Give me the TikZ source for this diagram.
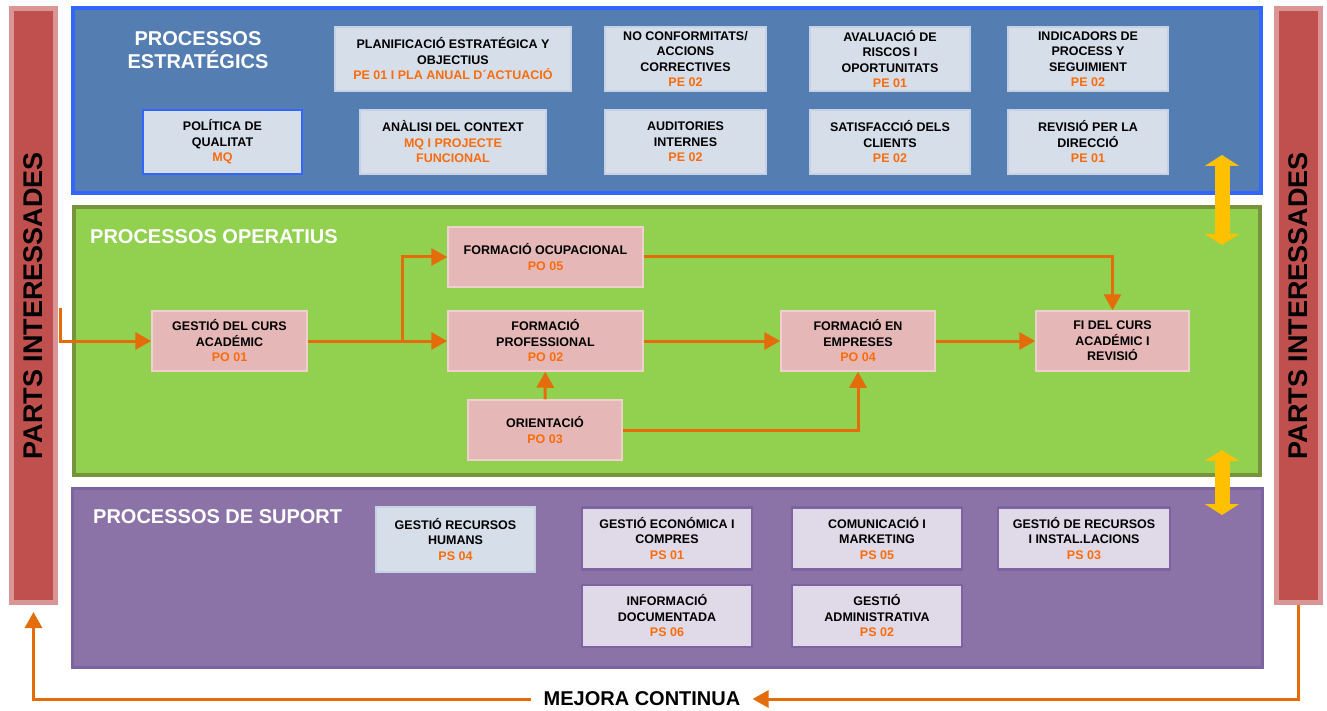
\documentclass[tikz,border=0pt]{standalone}
\usepackage{fontspec}
\setmainfont{Liberation Sans}
\usepackage{tikz}
\usetikzlibrary{arrows.meta}

\definecolor{bandblue}{RGB}{84,126,178}
\definecolor{edgeblue}{RGB}{51,102,255}
\definecolor{boxblue}{RGB}{214,222,234}
\definecolor{lineblue}{RGB}{198,210,228}
\definecolor{bandgreen}{RGB}{146,208,80}
\definecolor{edgegreen}{RGB}{119,147,60}
\definecolor{boxpink}{RGB}{229,184,183}
\definecolor{linepink}{RGB}{238,208,207}
\definecolor{bandpurple}{RGB}{139,115,168}
\definecolor{edgepurple}{RGB}{124,100,160}
\definecolor{boxlilac}{RGB}{223,217,232}
\definecolor{barred}{RGB}{192,80,77}
\definecolor{edgered}{RGB}{217,150,148}
\definecolor{flow}{RGB}{228,108,10}
\definecolor{codeorange}{RGB}{250,108,10}
\definecolor{link}{RGB}{255,192,0}

\begin{document}
\begin{tikzpicture}[x=1pt,y=-1pt,>={Triangle[length=16pt,width=17pt]}]
\tikzstyle{band}=[rectangle, line width=4pt, inner sep=0pt]
\tikzstyle{sidebar}=[rectangle, draw=edgered, fill=barred, line width=5pt, minimum width=44pt, minimum height=594pt]
\tikzstyle{sidetext}=[rotate=90, font=\fontsize{27}{30}\selectfont\bfseries]
\tikzstyle{bandtitle}=[text=white, align=center, inner sep=0pt, font=\fontsize{20}{23}\selectfont\bfseries]
\tikzstyle{box}=[rectangle, draw, line width=1.5pt, inner sep=0pt, align=center, font=\fontsize{12.5}{15.5}\selectfont\bfseries]
\tikzstyle{pe}=[box, fill=boxblue, draw=lineblue, minimum height=64pt, minimum width=160pt]
\tikzstyle{po}=[box, fill=boxpink, draw=linepink, minimum height=60pt, minimum width=155pt]
\tikzstyle{ps}=[box, fill=boxlilac, draw=edgepurple, line width=2.5pt, minimum height=62pt, minimum width=170pt]
\tikzstyle{flowline}=[->, draw=flow, line width=3pt]
\tikzstyle{linkarrow}=[{Triangle[length=11pt,width=34pt]}-{Triangle[length=11pt,width=34pt]}, draw=link, line width=15pt]

\useasboundingbox (0,0) rectangle (1327,711);

% side bars
\node[sidebar] (LPI) at (33.5,305.5) {};
\node[sidetext] (LPItext) at (LPI) {PARTS INTERESSADES};
\node[sidebar] (RPI) at (1298,305.5) {};
\node[sidetext] (RPItext) at (RPI) {PARTS INTERESSADES};

% bands
\node[band, draw=edgeblue, fill=bandblue, minimum width=1188pt, minimum height=185pt] (EST) at (667,100.5) {};
\node[band, draw=edgegreen, fill=bandgreen, minimum width=1186pt, minimum height=268pt] (OPE) at (667,341) {};
\node[band, draw=edgepurple, fill=bandpurple, line width=3pt, minimum width=1190pt, minimum height=179pt] (SUP) at (667.5,578) {};

\node[bandtitle] (ESTtitle) at (198,50) {PROCESSOS\\ESTRATÉGICS};
\node[bandtitle, anchor=west] (OPEtitle) at (90,237) {PROCESSOS OPERATIUS};
\node[bandtitle, anchor=west] (SUPtitle) at (93,517) {PROCESSOS DE SUPORT};

% processos estrategics
\node[pe, minimum width=236pt] (PLAN) at (453,59) {PLANIFICACIÓ ESTRATÉGICA Y\\OBJECTIUS\\\textcolor{codeorange}{PE 01 I PLA ANUAL D´ACTUACIÓ}};
\node[pe, minimum width=161pt] (NOCONF) at (685.5,59) {NO CONFORMITATS/\\ACCIONS\\CORRECTIVES\\\textcolor{codeorange}{PE 02}};
\node[pe] (RISC) at (890,59) {AVALUACIÓ DE\\RISCOS I\\OPORTUNITATS\\\textcolor{codeorange}{PE 01}};
\node[pe] (IND) at (1088,59) {INDICADORS DE\\PROCESS Y\\SEGUIMIENT\\\textcolor{codeorange}{PE 02}};
\node[pe, draw=edgeblue, minimum width=159pt] (POL) at (222.5,142) {POLÍTICA DE\\QUALITAT\\\textcolor{codeorange}{MQ}};
\node[pe, minimum width=186pt] (CTX) at (453,142) {ANÀLISI DEL CONTEXT\\\textcolor{codeorange}{MQ I PROJECTE}\\\textcolor{codeorange}{FUNCIONAL}};
\node[pe, minimum width=161pt] (AUD) at (685.5,142) {AUDITORIES\\INTERNES\\\textcolor{codeorange}{PE 02}};
\node[pe] (SAT) at (890,142) {SATISFACCIÓ DELS\\CLIENTS\\\textcolor{codeorange}{PE 02}};
\node[pe] (REV) at (1088,142) {REVISIÓ PER LA\\DIRECCIÓ\\\textcolor{codeorange}{PE 01}};

% processos operatius
\node[po] (GC) at (229.5,341) {GESTIÓ DEL CURS\\ACADÉMIC\\\textcolor{codeorange}{PO 01}};
\node[po, minimum width=195pt] (FO) at (545.5,257) {FORMACIÓ OCUPACIONAL\\\textcolor{codeorange}{PO 05}};
\node[po, minimum width=195pt] (FP) at (545.5,341) {FORMACIÓ\\PROFESSIONAL\\\textcolor{codeorange}{PO 02}};
\node[po, minimum width=154pt] (OR) at (545,430) {ORIENTACIÓ\\\textcolor{codeorange}{PO 03}};
\node[po, minimum width=154pt] (FE) at (858,341) {FORMACIÓ EN\\EMPRESES\\\textcolor{codeorange}{PO 04}};
\node[po, minimum width=153pt] (FI) at (1112.5,341) {FI DEL CURS\\ACADÉMIC I\\REVISIÓ};

% processos de suport
\node[ps, fill=boxblue, draw=lineblue, line width=1.5pt, minimum width=159pt, minimum height=65pt] (RH) at (455.5,539.5) {GESTIÓ RECURSOS\\HUMANS\\\textcolor{codeorange}{PS 04}};
\node[ps] (ECO) at (667,538.5) {GESTIÓ ECONÓMICA I\\COMPRES\\\textcolor{codeorange}{PS 01}};
\node[ps] (COM) at (877,538.5) {COMUNICACIÓ I\\MARKETING\\\textcolor{codeorange}{PS 05}};
\node[ps, minimum width=172pt] (INS) at (1084,538.5) {GESTIÓ DE RECURSOS\\I INSTAL.LACIONS\\\textcolor{codeorange}{PS 03}};
\node[ps] (DOC) at (667,616) {INFORMACIÓ\\DOCUMENTADA\\\textcolor{codeorange}{PS 06}};
\node[ps] (ADM) at (877,616) {GESTIÓ\\ADMINISTRATIVA\\\textcolor{codeorange}{PS 02}};

\node[font=\fontsize{20}{23}\selectfont\bfseries, inner xsep=12pt] (MC) at (642,699) {MEJORA CONTINUA};

% connectors
\coordinate (entry) at (60,308);
\coordinate (split) at (402,341);
\draw[flowline] (entry) |- (GC.west);
\draw[flowline] (GC) -- (FP);
\draw[flowline] (FP) -- (FE);
\draw[flowline] (FE) -- (FI);
\draw[flowline] (OR) -- (FP);
\draw[flowline] (split) |- (FO.west);
\draw[flowline] (FO.east) -| (FI.north);
\draw[flowline] (OR.east) -| (FE.south);
\draw[flowline] (RPI.south) |- (MC.east);
\draw[flowline, shorten >=7pt] (MC.west) -| (LPI.south);

\coordinate (linkA1) at (1222,155);
\coordinate (linkA2) at (1222,245);
\coordinate (linkB1) at (1222,450);
\coordinate (linkB2) at (1222,515);
\draw[linkarrow] (linkA1) -- (linkA2);
\draw[linkarrow] (linkB1) -- (linkB2);
\end{tikzpicture}
\end{document}
